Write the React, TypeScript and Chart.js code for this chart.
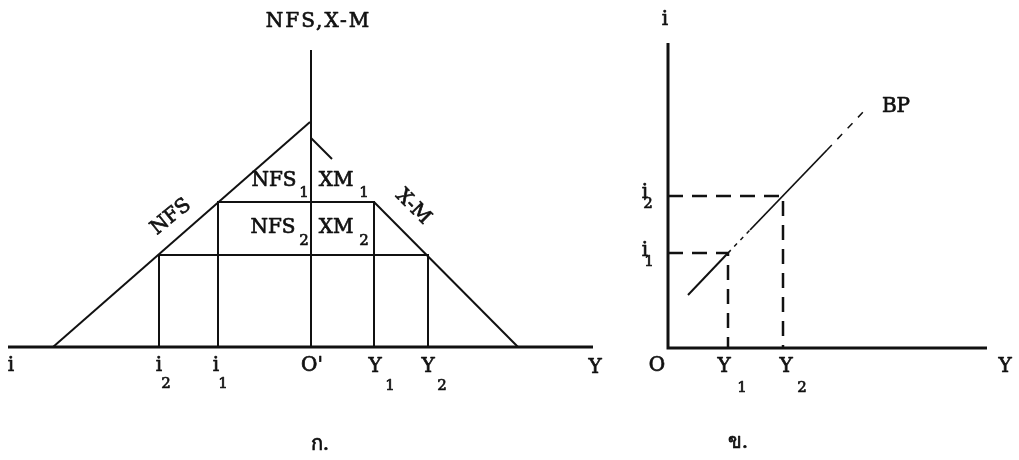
import React, { useEffect, useRef } from 'react';
import { Chart, registerables } from 'chart.js';

Chart.register(...registerables);

// ---------- Panel ก. (left): x: O' = 0, i to the left (negative), Y to the right; y: NFS, X-M ----------
const leftBaseAxis = [{ x: -30.2, y: 0 }, { x: 28.3, y: 0 }];
const leftVerticalAxis = [{ x: 0.1, y: 0 }, { x: 0.1, y: 29.7 }];
const nfsCurve = [{ x: -25.7, y: 0 }, { x: 0, y: 22.5 }];
const xmCurveUpper = [{ x: 0.1, y: 20.9 }, { x: 2.2, y: 18.8 }];
const xmCurveLower = [{ x: 6.4, y: 14.5 }, { x: 20.8, y: 0 }];
// inner box: i1 .. Y1 at level NFS1 / XM1
const innerBox = [
  { x: -9.2, y: 0 }, { x: -9.2, y: 14.5 }, { x: 6.4, y: 14.5 }, { x: 6.4, y: 0 },
];
// outer box: i2 .. Y2 at level NFS2 / XM2
const outerBox = [
  { x: -15.1, y: 0 }, { x: -15.1, y: 9.2 }, { x: 11.8, y: 9.2 }, { x: 11.8, y: 0 },
];

// ---------- Panel ข. (right): x: Y, y: i ----------
const rightYAxis = [{ x: 0, y: 30.5 }, { x: 0, y: 0 }, { x: 31.9, y: 0 }];
const i1Guide = [{ x: 0, y: 9.5 }, { x: 6.0, y: 9.5 }, { x: 6.0, y: 0 }];
const i2Guide = [{ x: 0, y: 15.2 }, { x: 11.5, y: 15.2 }, { x: 11.5, y: 0 }];
const bpSolidLow = [{ x: 2.0, y: 5.3 }, { x: 6.0, y: 9.5 }];
const bpFaint = [{ x: 6.0, y: 9.5 }, { x: 8.2, y: 11.8 }];
const bpSolidHigh = [{ x: 8.2, y: 11.8 }, { x: 15.9, y: 19.8 }];
const bpDashedTop = [{ x: 15.9, y: 19.8 }, { x: 19.7, y: 23.8 }];

// ---------- Text labels ----------
type Label = { t: string; p: 'L' | 'R'; x: number; y: number; s?: number; r?: number; ls?: number };
const labels: Label[] = [
  { t: 'NFS,X-M', p: 'L', x: 0.85, y: 32.5, ls: 2 },
  { t: 'NFS', p: 'L', x: -3.6, y: 16.6 },
  { t: '1', p: 'L', x: -0.6, y: 15.4, s: 15 },
  { t: 'XM', p: 'L', x: 2.6, y: 16.6 },
  { t: '1', p: 'L', x: 5.4, y: 15.4, s: 15 },
  { t: 'NFS', p: 'L', x: -3.7, y: 11.9 },
  { t: '2', p: 'L', x: -0.6, y: 10.6, s: 15 },
  { t: 'XM', p: 'L', x: 2.6, y: 11.9 },
  { t: '2', p: 'L', x: 5.4, y: 10.6, s: 15 },
  { t: 'NFS', p: 'L', x: -13.9, y: 13.0, r: -39 },
  { t: 'X-M', p: 'L', x: 10.3, y: 14.0, r: 45 },
  { t: 'i', p: 'L', x: -29.9, y: -1.9 },
  { t: 'i', p: 'L', x: -15.1, y: -1.9 },
  { t: '2', p: 'L', x: -14.4, y: -3.7, s: 15 },
  { t: 'i', p: 'L', x: -9.4, y: -1.9 },
  { t: '1', p: 'L', x: -8.7, y: -3.7, s: 15 },
  { t: "O'", p: 'L', x: 0.2, y: -1.9 },
  { t: 'Y', p: 'L', x: 6.5, y: -2.0 },
  { t: '1', p: 'L', x: 8.0, y: -3.9, s: 15 },
  { t: 'Y', p: 'L', x: 11.8, y: -2.0 },
  { t: '2', p: 'L', x: 13.2, y: -3.9, s: 15 },
  { t: 'Y', p: 'L', x: 28.5, y: -2.1 },
  { t: 'ก.', p: 'L', x: 1.0, y: -9.8 },
  { t: 'i', p: 'R', x: -0.3, y: 32.8 },
  { t: 'i', p: 'R', x: -2.3, y: 15.5 },
  { t: '2', p: 'R', x: -2.0, y: 14.4, s: 15 },
  { t: 'i', p: 'R', x: -2.3, y: 9.7 },
  { t: '1', p: 'R', x: -1.9, y: 8.6, s: 15 },
  { t: 'O', p: 'R', x: -1.1, y: -1.8 },
  { t: 'Y', p: 'R', x: 5.6, y: -1.9 },
  { t: '1', p: 'R', x: 7.4, y: -4.0, s: 15 },
  { t: 'Y', p: 'R', x: 11.8, y: -1.9 },
  { t: '2', p: 'R', x: 13.4, y: -4.0, s: 15 },
  { t: 'Y', p: 'R', x: 33.7, y: -1.9 },
  { t: 'BP', p: 'R', x: 22.8, y: 24.1 },
  { t: 'ข.', p: 'R', x: 7.0, y: -9.5 },
];

const INK = '#111';
const FONT = '"DejaVu Serif", "Liberation Serif", serif';

function seg(data: { x: number; y: number }[], side: 'L' | 'R', width: number, dash: number[] = []) {
  return {
    data,
    xAxisID: side === 'L' ? 'xL' : 'xR',
    yAxisID: side === 'L' ? 'yL' : 'yR',
    showLine: true,
    borderColor: INK,
    backgroundColor: INK,
    borderWidth: width,
    borderDash: dash,
    pointRadius: 0,
    fill: false,
    tension: 0,
  };
}

const labelPlugin = {
  id: 'labels',
  afterDatasetsDraw(chart: any) {
    const ctx = chart.ctx as CanvasRenderingContext2D;
    ctx.save();
    ctx.fillStyle = INK;
    ctx.strokeStyle = INK;
    ctx.lineWidth = 0.7;
    ctx.lineJoin = 'round';
    ctx.textAlign = 'center';
    ctx.textBaseline = 'middle';
    for (const l of labels) {
      const xs = chart.scales[l.p === 'L' ? 'xL' : 'xR'];
      const ys = chart.scales[l.p === 'L' ? 'yL' : 'yR'];
      const px = xs.getPixelForValue(l.x);
      const py = ys.getPixelForValue(l.y);
      ctx.font = `${l.s ?? 20}px ${FONT}`;
      (ctx as any).letterSpacing = `${l.ls ?? 0}px`;
      ctx.save();
      ctx.translate(px, py);
      if (l.r) ctx.rotate((l.r * Math.PI) / 180);
      ctx.fillText(l.t, 0, 0);
      ctx.strokeText(l.t, 0, 0);
      ctx.restore();
    }
    ctx.restore();
  },
};

export default function App() {
  const ref = useRef<HTMLCanvasElement | null>(null);
  useEffect(() => {
    if (!ref.current) return;
    const chart = new Chart(ref.current, {
      type: 'scatter',
      data: {
        datasets: [
          seg(leftBaseAxis, 'L', 3),
          seg(leftVerticalAxis, 'L', 2),
          seg(nfsCurve, 'L', 2),
          seg(xmCurveUpper, 'L', 2),
          seg(xmCurveLower, 'L', 2),
          seg(innerBox, 'L', 2),
          seg(outerBox, 'L', 2),
          seg(rightYAxis, 'R', 3),
          seg(i1Guide, 'R', 2.5, [15, 9]),
          seg(i2Guide, 'R', 2.5, [15, 9]),
          seg(bpSolidLow, 'R', 2),
          seg(bpFaint, 'R', 1.5, [4, 5]),
          seg(bpSolidHigh, 'R', 1.8),
          seg(bpDashedTop, 'R', 1.5, [7, 8]),
        ] as any,
      },
      options: {
        responsive: false,
        animation: false,
        events: [],
        layout: { padding: 0 },
        plugins: { legend: { display: false }, tooltip: { enabled: false } },
        scales: {
          xL: { type: 'linear', position: 'bottom', display: false, min: -31.0, max: 70.9 },
          yL: { type: 'linear', position: 'left', display: false, min: -11.3, max: 34.7 },
          xR: { type: 'linear', position: 'bottom', display: false, min: -66.8, max: 35.1 },
          yR: { type: 'linear', position: 'left', display: false, min: -11.2, max: 34.8 },
        },
      },
      plugins: [labelPlugin],
    });
    return () => chart.destroy();
  }, []);
  return (
    <div style={{ position: 'fixed', left: 0, top: 0, width: 1019, height: 460, background: '#fff' }}>
      <canvas ref={ref} width={1019} height={460} style={{ width: 1019, height: 460, display: 'block' }} />
    </div>
  );
}
